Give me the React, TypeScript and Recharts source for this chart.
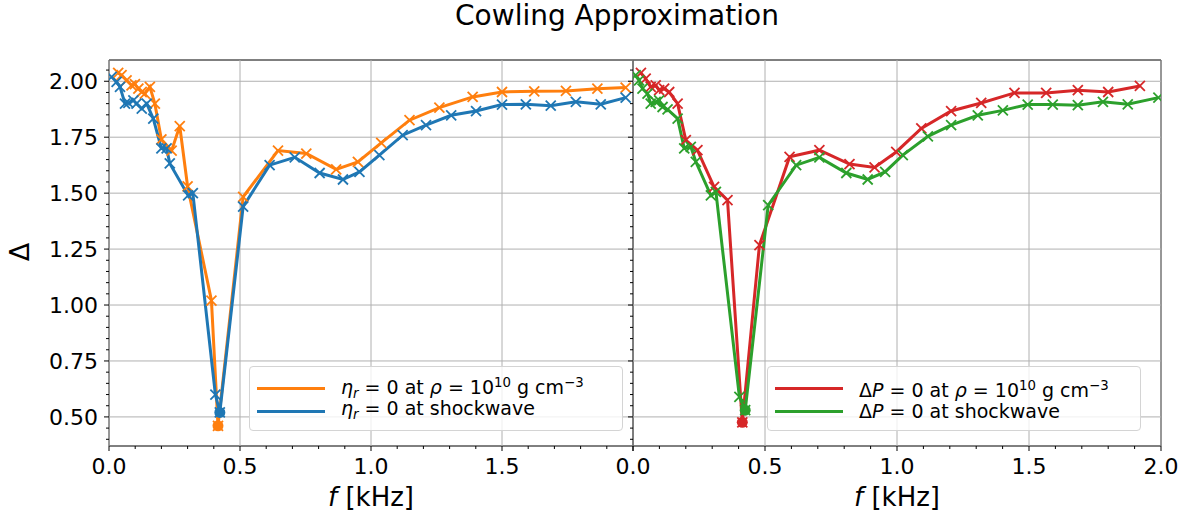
import React from 'react';
import { ComposedChart, Line, XAxis, YAxis, ReferenceLine, ReferenceArea, Legend } from 'recharts';

const FONT = '"DejaVu Sans", sans-serif';
const TITLE = 'Cowling Approximation';

// left panel: eta_r = 0 at rho = 1e10 g/cm^3
const etaRhoF = [0.035, 0.048, 0.067, 0.086, 0.099, 0.112, 0.125, 0.137, 0.156, 0.175, 0.2, 0.239, 0.27, 0.3, 0.391, 0.416, 0.512, 0.645, 0.753, 0.867, 0.95, 1.039, 1.147, 1.261, 1.388, 1.5, 1.623, 1.744, 1.864, 1.972];
const etaRhoDelta = [2.037, 2.027, 2.004, 1.982, 1.987, 1.967, 1.952, 1.945, 1.975, 1.9, 1.74, 1.69, 1.8, 1.53, 1.02, 0.46, 1.483, 1.69, 1.677, 1.606, 1.64, 1.725, 1.826, 1.882, 1.93, 1.952, 1.955, 1.957, 1.967, 1.972];

// left panel: eta_r = 0 at shockwave
const etaShockF = [0.01, 0.029, 0.042, 0.061, 0.074, 0.093, 0.105, 0.125, 0.144, 0.169, 0.2, 0.22, 0.232, 0.302, 0.32, 0.406, 0.423, 0.512, 0.613, 0.709, 0.804, 0.893, 0.956, 1.032, 1.121, 1.21, 1.306, 1.401, 1.5, 1.591, 1.686, 1.782, 1.877, 1.972];
const etaShockDelta = [2.02, 1.997, 1.975, 1.9, 1.903, 1.915, 1.9, 1.878, 1.9, 1.833, 1.7, 1.7, 1.633, 1.49, 1.5, 0.6, 0.52, 1.44, 1.625, 1.66, 1.59, 1.561, 1.595, 1.67, 1.759, 1.804, 1.848, 1.867, 1.896, 1.897, 1.891, 1.908, 1.897, 1.927];

// right panel: dP = 0 at rho = 1e10 g/cm^3
const dpRhoF = [0.03, 0.048, 0.067, 0.086, 0.099, 0.118, 0.137, 0.169, 0.2, 0.244, 0.307, 0.358, 0.414, 0.479, 0.593, 0.706, 0.82, 0.915, 0.997, 1.092, 1.205, 1.319, 1.445, 1.565, 1.685, 1.8, 1.92];
const dpRhoDelta = [2.037, 2.012, 1.975, 1.982, 1.96, 1.967, 1.952, 1.9, 1.737, 1.692, 1.528, 1.469, 0.476, 1.268, 1.662, 1.692, 1.63, 1.615, 1.684, 1.789, 1.867, 1.903, 1.948, 1.948, 1.96, 1.952, 1.979];

// right panel: dP = 0 at shockwave
const dpShockF = [0.01, 0.023, 0.036, 0.055, 0.067, 0.086, 0.099, 0.112, 0.131, 0.169, 0.194, 0.219, 0.238, 0.295, 0.314, 0.403, 0.425, 0.512, 0.618, 0.706, 0.808, 0.889, 0.955, 1.022, 1.117, 1.205, 1.306, 1.401, 1.495, 1.59, 1.685, 1.78, 1.874, 1.99];
const dpShockDelta = [2.027, 2.004, 1.967, 1.945, 1.9, 1.908, 1.915, 1.885, 1.874, 1.833, 1.7, 1.707, 1.64, 1.49, 1.506, 0.59, 0.53, 1.446, 1.625, 1.66, 1.59, 1.561, 1.595, 1.67, 1.754, 1.804, 1.848, 1.87, 1.896, 1.896, 1.893, 1.908, 1.897, 1.927];

const xMajor = [0, 0.5, 1, 1.5, 2];
const xMinor = [0.1, 0.2, 0.3, 0.4, 0.6, 0.7, 0.8, 0.9, 1.1, 1.2, 1.3, 1.4, 1.6, 1.7, 1.8, 1.9];
const yMajor = [0.5, 0.75, 1, 1.25, 1.5, 1.75, 2];
const yMinor = [0.4, 0.45, 0.55, 0.6, 0.65, 0.7, 0.8, 0.85, 0.9, 0.95, 1.05, 1.1, 1.15, 1.2, 1.3, 1.35, 1.4, 1.45, 1.55, 1.6, 1.65, 1.7, 1.8, 1.85, 1.9, 1.95, 2.05];
const yDomain: [number, number] = [0.37, 2.095];

const toRows = (f: number[], d: number[]) => f.map((v, i) => ({ f: v, delta: d[i] }));

const supStyle: React.CSSProperties = { fontSize: '0.7em', verticalAlign: '0.55em' };
const subStyle: React.CSSProperties = { fontSize: '0.7em', verticalAlign: '-0.3em', fontStyle: 'italic' };

const etaSym = <><i>η</i><span style={subStyle}>r</span></>;
const dpSym = <>Δ<i>P</i></>;
const rhoTail = <> = 0 at <i>ρ</i> = 10<span style={supStyle}>10</span> g cm<span style={supStyle}>−3</span></>;

const leftSeries = [
  { name: 'eta-rho', f: etaRhoF, d: etaRhoDelta, color: '#ff7f0e', label: <>{etaSym}{rhoTail}</> },
  { name: 'eta-shock', f: etaShockF, d: etaShockDelta, color: '#1f77b4', label: <>{etaSym} = 0 at shockwave</> },
];
const rightSeries = [
  { name: 'dp-rho', f: dpRhoF, d: dpRhoDelta, color: '#d62728', label: <>{dpSym}{rhoTail}</> },
  { name: 'dp-shock', f: dpShockF, d: dpShockDelta, color: '#2ca02c', label: <>{dpSym} = 0 at shockwave</> },
];

const makeDot = (color: string, d: number[]) => {
  const minIdx = d.indexOf(Math.min(...d));
  return (p: any) => {
    const { cx, cy, index } = p;
    const s = 5;
    return (
      <g key={`dot-${color}-${index}`}>
        <line x1={cx - s} y1={cy - s} x2={cx + s} y2={cy + s} stroke={color} strokeWidth={1.8} />
        <line x1={cx - s} y1={cy + s} x2={cx + s} y2={cy - s} stroke={color} strokeWidth={1.8} />
        {index === minIdx && <circle cx={cx} cy={cy} r={5.5} fill={color} />}
      </g>
    );
  };
};

const XTick = (props: any) => {
  const { x, y, payload, hideLast } = props;
  const v = payload.value;
  const major = xMajor.includes(v);
  return (
    <g>
      <line x1={x} x2={x} y1={y} y2={y + (major ? 5 : 3)} stroke="#000" strokeWidth={1} />
      {major && !(hideLast && v === 2) && (
        <text x={x} y={y + 28} textAnchor="middle" fontSize={22} fontFamily={FONT} fill="#000">{v.toFixed(1)}</text>
      )}
    </g>
  );
};

const YTick = (props: any) => {
  const { x, y, payload, showLabel } = props;
  const v = payload.value;
  const major = yMajor.includes(v);
  return (
    <g>
      <line x1={x - (major ? 5 : 3)} x2={x} y1={y} y2={y} stroke="#000" strokeWidth={1} />
      {major && showLabel && (
        <text x={x - 11} y={y} dy="0.36em" textAnchor="end" fontSize={22} fontFamily={FONT} fill="#000">{v.toFixed(2)}</text>
      )}
    </g>
  );
};

const LegendBox = ({ series }: { series: typeof leftSeries }) => (
  <div style={{
    width: 374, height: 65, boxSizing: 'border-box', border: '1px solid #d4d4d4', borderRadius: 4,
    background: 'rgba(255,255,255,0.8)', padding: '10px 0 0 7px', fontFamily: FONT, fontSize: 19, color: '#000',
  }}>
    {series.map(s => (
      <div key={s.name} style={{ display: 'flex', alignItems: 'center', height: 23, whiteSpace: 'nowrap' }}>
        <span style={{ display: 'inline-block', width: 68, height: 3, background: s.color, marginRight: 16 }} />
        <span style={{ lineHeight: '23px' }}>{s.label}</span>
      </div>
    ))}
  </div>
);

const XLabel = (props: any) => {
  const { viewBox } = props;
  return (
    <text x={viewBox.x + viewBox.width / 2} y={viewBox.y + 60} textAnchor="middle" fontSize={26} fontFamily={FONT} fill="#000">
      <tspan fontStyle="italic">f</tspan> [kHz]
    </text>
  );
};

type PanelProps = {
  left: number; width: number; marginRight: number; yAxisWidth: number;
  series: typeof leftSeries; showYLabels: boolean; hideLastX: boolean; legendLeft: number;
};

const Panel = ({ left, width, marginRight, yAxisWidth, series, showYLabels, hideLastX, legendLeft }: PanelProps) => (
  <div style={{ position: 'absolute', left, top: 0 }}>
    <ComposedChart width={width} height={518} margin={{ top: 60, right: marginRight, bottom: 0, left: 0 }}>
      <XAxis
        dataKey="f" type="number" domain={[0, 2]} ticks={[...xMajor, ...xMinor].sort((a, b) => a - b)}
        interval={0} height={72} axisLine={false} tickLine={false} tickSize={0} tickMargin={0}
        tick={<XTick hideLast={hideLastX} />} label={<XLabel />} allowDataOverflow
      />
      <YAxis
        type="number" domain={yDomain} ticks={[...yMajor, ...yMinor].sort((a, b) => a - b)}
        interval={0} width={yAxisWidth} axisLine={false} tickLine={false} tickSize={0} tickMargin={0}
        tick={<YTick showLabel={showYLabels} />} allowDataOverflow
      />
      {xMajor.map(v => <ReferenceLine key={`gx${v}`} x={v} stroke="#b0b0b0" strokeWidth={1} />)}
      {yMajor.map(v => <ReferenceLine key={`gy${v}`} y={v} stroke="#b0b0b0" strokeWidth={1} />)}
      {series.map(s => (
        <Line
          key={s.name} name={s.name} data={toRows(s.f, s.d)} dataKey="delta" type="linear"
          stroke={s.color} strokeWidth={3} dot={makeDot(s.color, s.d)} activeDot={false}
          isAnimationActive={false} legendType="line"
        />
      ))}
      <ReferenceArea x1={0} x2={2} y1={yDomain[0]} y2={yDomain[1]} fill="none" fillOpacity={0} stroke="#000" strokeWidth={1} />
      <Legend
        layout="vertical" align="center" verticalAlign="middle"
        wrapperStyle={{ left: legendLeft, top: 366, width: 374 }}
        content={() => <LegendBox series={series} />}
      />
    </ComposedChart>
  </div>
);

export default function App() {
  return (
    <div style={{ position: 'absolute', left: 0, top: 0, width: 1188, height: 518, background: '#fff', overflow: 'hidden' }}>
      <div style={{ position: 'absolute', left: 317, top: -1, width: 600, textAlign: 'center', fontFamily: FONT, fontSize: 28, lineHeight: '34px', color: '#000' }}>
        {TITLE}
      </div>
      <svg style={{ position: 'absolute', left: 0, top: 0 }} width={40} height={518}>
        <text x={0} y={0} transform="translate(29,252) rotate(-90)" textAnchor="middle" fontSize={27} fontFamily={FONT} fill="#000">Δ</text>
      </svg>
      <Panel left={0} width={640} marginRight={7} yAxisWidth={109} series={leftSeries} showYLabels hideLastX legendLeft={249} />
      <Panel left={600} width={588} marginRight={27} yAxisWidth={33} series={rightSeries} showYLabels={false} hideLastX={false} legendLeft={167} />
    </div>
  );
}
